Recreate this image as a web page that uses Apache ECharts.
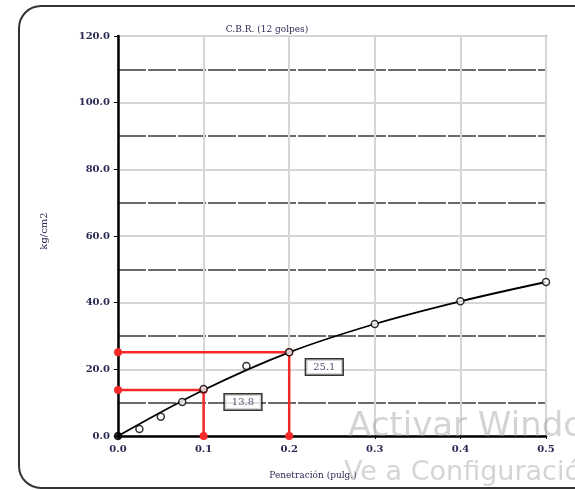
<!DOCTYPE html>
<html>
<head>
<meta charset="utf-8">
<script src="https://cdn.jsdelivr.net/npm/echarts@6/dist/echarts.min.js"></script>
<style>
  html, body { margin: 0; padding: 0; background: #fff; }
  #chart { width: 575px; height: 490px; }
</style>
</head>
<body>
<div id="chart"></div>
<script>
// Penetration readings (inches) and measured load (kg/cm2)
const penetration = [0.0, 0.025, 0.05, 0.075, 0.1, 0.15, 0.2, 0.3, 0.4, 0.5];
const load = [0.0, 2.1, 5.8, 10.2, 14.1, 21.0, 25.1, 33.6, 40.4, 46.2];

// Fitted curve values at the main penetrations
const curveX = [0.0, 0.1, 0.2, 0.3, 0.4, 0.5];
const curveY = [0.0, 13.8, 25.1, 33.6, 40.4, 46.2];

// CBR readings at 0.1" and 0.2"
const cbrPen = [0.1, 0.2];
const cbrLoad = [13.8, 25.1];

const xTicks = ['0.0', '0.1', '0.2', '0.3', '0.4', '0.5'];
const yTicks = ['0.0', '20.0', '40.0', '60.0', '80.0', '100.0', '120.0'];

const serif = '"DejaVu Serif", "Liberation Serif", serif';
const sans = '"DejaVu Sans", "Noto Sans", sans-serif';
const textColor = '#2a2a55';
const red = '#f42a2a';

// Where each CBR value box sits (data coordinates of its centre)
const boxAt = [[0.146, 10.2], [0.241, 20.7]];

const chart = echarts.init(document.getElementById('chart'));

const series = [];

// Red guide lines: axis -> curve -> axis
cbrPen.forEach((p, i) => {
  series.push({
    type: 'line',
    data: [[0, cbrLoad[i]], [p, cbrLoad[i]], [p, 0]],
    lineStyle: { color: red, width: 2.5 },
    symbol: 'circle',
    symbolSize: 8,
    itemStyle: { color: red },
    z: 3,
    silent: true
  });
});

// Fitted curve
series.push({
  type: 'line',
  data: curveX.map((x, i) => [x, curveY[i]]),
  smooth: 0.35,
  symbol: 'none',
  lineStyle: { color: '#000', width: 1.8 },
  z: 4,
  silent: true
});

// Measured points
series.push({
  type: 'scatter',
  data: penetration.map((x, i) => ({
    value: [x, load[i]],
    itemStyle: i === 0 ? { color: '#000', borderColor: '#000' } : undefined
  })),
  symbol: 'circle',
  symbolSize: 7,
  itemStyle: { color: '#fff', borderColor: '#000', borderWidth: 1.5 },
  z: 5,
  silent: true
});

// CBR value boxes
series.push({
  type: 'scatter',
  data: cbrLoad.map((v, i) => ({ value: boxAt[i], cbr: v })),
  symbolSize: 0,
  z: 6,
  silent: true,
  label: {
    show: true,
    position: 'inside',
    formatter: p => p.data.cbr.toFixed(1),
    fontFamily: serif,
    fontSize: 10,
    color: textColor,
    backgroundColor: '#fff',
    borderColor: '#000',
    borderWidth: 1.5,
    padding: [3, 7, 2, 7]
  }
});

chart.setOption({
  animation: false,
  backgroundColor: '#fff',
  grid: {
    left: 118, right: 29, top: 36, bottom: 54,
    show: true,
    borderColor: '#222',
    borderWidth: 1.5,
    backgroundColor: 'transparent'
  },
  title: {
    text: 'C.B.R. (12 golpes)',
    left: 262,
    top: 20,
    textAlign: 'center',
    textStyle: { fontFamily: serif, fontSize: 9, fontWeight: 'normal', color: textColor }
  },
  xAxis: {
    type: 'value',
    min: 0, max: 0.5, interval: 0.1,
    axisLine: { show: true, onZero: false, lineStyle: { color: '#000', width: 2.5 } },
    axisTick: { show: true, length: 3, lineStyle: { color: '#000' } },
    axisLabel: {
      formatter: v => xTicks[Math.round(v * 10)],
      fontFamily: serif, fontSize: 10, fontWeight: 'bold', color: textColor, margin: 8
    },
    splitLine: { show: true, lineStyle: { color: '#d6d6d6', width: 2 } }
  },
  yAxis: {
    type: 'value',
    min: 0, max: 120, interval: 20,
    axisLine: { show: true, onZero: false, lineStyle: { color: '#000', width: 2.5 } },
    axisTick: { show: true, length: 4, lineStyle: { color: '#000' } },
    axisLabel: {
      formatter: v => yTicks[Math.round(v / 20)],
      fontFamily: serif, fontSize: 10, fontWeight: 'bold', color: textColor, margin: 8
    },
    splitLine: { show: true, lineStyle: { color: '#d6d6d6', width: 2 } },
    minorTick: { show: false, splitNumber: 2 },
    minorSplitLine: { show: true, lineStyle: { color: '#3a3a3a', width: 1.5, type: [28, 2] } }
  },
  series: series,
  graphic: [
    {
      type: 'rect',
      shape: { x: 19, y: 6, width: 590, height: 482, r: 22 },
      style: { fill: 'none', stroke: '#333', lineWidth: 2 },
      z: -1,
      silent: true
    },
    {
      type: 'text',
      x: 44, y: 231,
      rotation: Math.PI / 2,
      style: {
        text: 'kg/cm2', fontFamily: serif, fontSize: 10, fill: textColor,
        align: 'center', verticalAlign: 'middle'
      },
      silent: true
    },
    {
      type: 'text',
      x: 313, y: 476,
      style: {
        text: 'Penetración (pulg.)', fontFamily: serif, fontSize: 9, fill: textColor,
        align: 'center', verticalAlign: 'middle'
      },
      silent: true
    },
    {
      type: 'text',
      x: 348, y: 427,
      z: 100,
      style: {
        text: 'Activar Windows', fontFamily: sans, fontSize: 34,
        fill: 'rgba(160,160,160,0.45)', verticalAlign: 'middle'
      },
      silent: true
    },
    {
      type: 'text',
      x: 344, y: 473,
      z: 100,
      style: {
        text: 'Ve a Configuración', fontFamily: sans, fontSize: 27,
        fill: 'rgba(160,160,160,0.45)', verticalAlign: 'middle'
      },
      silent: true
    }
  ]
});
</script>
</body>
</html>
